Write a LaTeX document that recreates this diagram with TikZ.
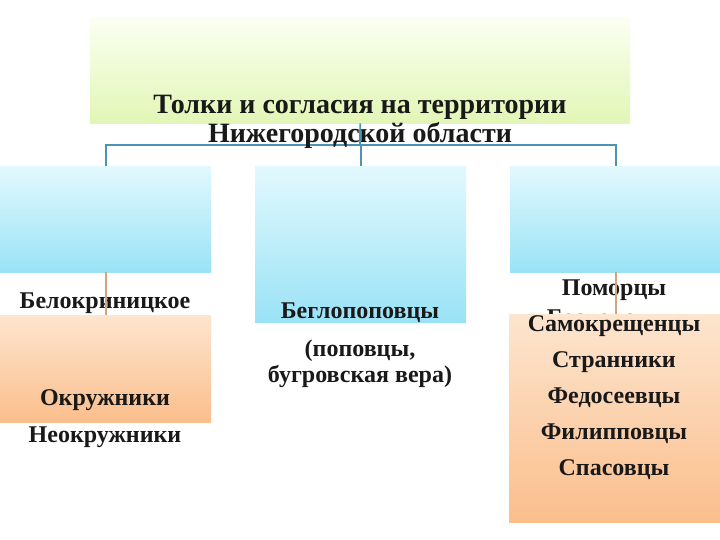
\documentclass[tikz,border=0pt]{standalone}
\usepackage{fontspec}
\setmainfont{Liberation Serif}
\usepackage{xcolor}
\usepackage{tikz}
\usetikzlibrary{positioning, calc}

\definecolor{greentop}{HTML}{FBFFF2}
\definecolor{greenbot}{HTML}{E2F6B6}
\definecolor{bluetop}{HTML}{E2F9FD}
\definecolor{bluebot}{HTML}{9AE2F6}
\definecolor{orangetop}{HTML}{FDE5CF}
\definecolor{orangebot}{HTML}{FBBE8C}
\definecolor{busblue}{HTML}{4A95B5}
\definecolor{bustan}{HTML}{D2A47E}

\begin{document}
\begin{tikzpicture}[x=1pt, y=-1pt,
	greenbox/.style={shade, top color=greentop, bottom color=greenbot, draw=none, inner sep=0pt, anchor=north west},
	bluebox/.style={shade, top color=bluetop, bottom color=bluebot, draw=none, inner sep=0pt, anchor=north west},
	orangebox/.style={shade, top color=orangetop, bottom color=orangebot, draw=none, inner sep=0pt, anchor=north west},
	itemtext/.style={font=\bfseries\fontsize{24}{26}\selectfont, text=black!90, inner sep=1pt, align=center}]
					\useasboundingbox [fill=white] (0,0) rectangle (720,540);
					
					% boxes
					\node [greenbox, minimum width=540pt, minimum height=106pt] (top) at (90,17) {};
					\node [bluebox, minimum width=211pt, minimum height=106pt] (bela) at (0,166) {};
					\node [bluebox, minimum width=211pt, minimum height=156pt] (begl) at (255,166) {};
					\node [bluebox, minimum width=211pt, minimum height=106pt] (besp) at (510,166) {};
					
					% connectors
					\coordinate (hub) at (360,145);
					\draw [busblue, line width=1.8pt] (bela.north) |- (hub) -| (besp.north);
					\draw [busblue, line width=1.8pt] (begl.north) -- (begl.north |- hub);
					
					\node [itemtext] (pomor) at (614,290) {Поморцы};
					\node [itemtext] (bespop) at (614,320) {Беспоповцы};
					
					\node [orangebox, minimum width=211pt, minimum height=107pt] (okr) at (0,315) {};
					\node [orangebox, minimum width=211pt, minimum height=208pt] (pom) at (509,314) {};
					
					\node [itemtext] (belokr) at (105,303) {Белокриницкое};
					\draw [bustan, line width=1.8pt] (bela.south) -- (okr.north);
					\draw [bustan, line width=1.8pt] (besp.south) -- (besp.south |- pom.north);
					
					\node [itemtext, font=\bfseries\fontsize{28}{29}\selectfont] (title) at (360,122) {Толки и согласия на территории\\Нижегородской области};
					\draw [busblue, line width=1.8pt] (top.south) -- (hub);
					
					\node [itemtext] (okruzh) at (105,400) {Окружники};
					\node [itemtext] (neokr) at (105,437) {Неокружники};
					
					\node [itemtext] (beglo) at (360,313) {Беглопоповцы};
					\node [itemtext] (popov) at (360,364) {(поповцы,\\бугровская вера)};
					
					\node [itemtext] (samokr) at (614,326) {Самокрещенцы};
					\node [itemtext] (strann) at (614,362) {Странники};
					\node [itemtext] (fedos) at (614,398) {Федосеевцы};
					\node [itemtext] (filip) at (614,434) {Филипповцы};
					\node [itemtext] (spas) at (614,470) {Спасовцы};
\end{tikzpicture}
\end{document}
